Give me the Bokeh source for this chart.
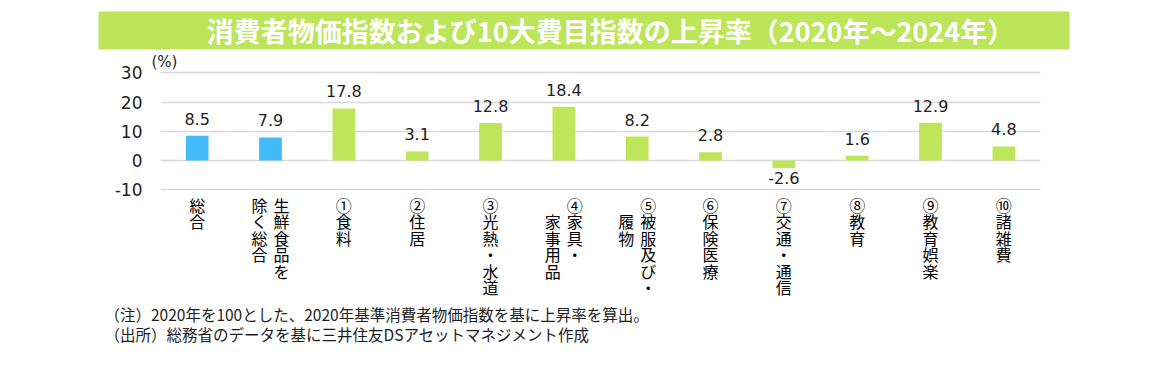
from bokeh.plotting import figure
from bokeh.models import ColumnDataSource, FixedTicker, Range1d
from bokeh.core.properties import value
from bokeh.embed import file_html
from bokeh.resources import INLINE

# ---------------- data ----------------
categories = ["総合", "生鮮食品を除く総合", "①食料", "②住居", "③光熱・水道",
              "④家具・家事用品", "⑤被服及び・履物", "⑥保険医療", "⑦交通・通信",
              "⑧教育", "⑨教育娯楽", "⑩諸雑費"]
label_columns = [["総合"], ["生鮮食品を", "除く総合"], ["①食料"], ["②住居"],
                 ["③光熱・水道"], ["④家具・", "家事用品"], ["⑤被服及び・", "履物"],
                 ["⑥保険医療"], ["⑦交通・通信"], ["⑧教育"], ["⑨教育娯楽"], ["⑩諸雑費"]]
values = [8.5, 7.9, 17.8, 3.1, 12.8, 18.4, 8.2, 2.8, -2.6, 1.6, 12.9, 4.8]
groups = ["total", "total", "item", "item", "item", "item", "item", "item",
          "item", "item", "item", "item"]
y_ticks = [-10, 0, 10, 20, 30]
title_text = "消費者物価指数および10大費目指数の上昇率（2020年～2024年）"
unit_text = "(%)"
notes = ["（注）2020年を100とした、2020年基準消費者物価指数を基に上昇率を算出。",
         "（出所）総務省のデータを基に三井住友DSアセットマネジメント作成"]

# ---------------- style ----------------
BLUE = "#45baf9"
GREEN = "#bee65a"
BANNER = "#bde55a"
TXT = "#1e1e1e"
JP = "Noto Sans CJK JP"
NUM = "DejaVu Sans"

W, H = 1142, 352
FL, FR = 160, 1040                  # plotting area left/right (page px)
ZERO_PAGE, PX_PER_UNIT = 160, 2.925
n = len(categories)
PX_PER_CAT = (FR - FL) / n
x_lo = -0.5                          # left edge of the first category
x_hi = n - 0.5
x_start = x_lo - FL / PX_PER_CAT
x_end = x_start + W / PX_PER_CAT
y_end = ZERO_PAGE / PX_PER_UNIT
y_start = -(H - ZERO_PAGE) / PX_PER_UNIT


def xd(px):
    return x_start + px / PX_PER_CAT


def yd(py):
    return (ZERO_PAGE - py) / PX_PER_UNIT


p = figure(width=W, height=H, output_backend="svg", toolbar_location=None,
           x_range=Range1d(x_start, x_end), y_range=Range1d(y_start, y_end),
           x_axis_location=None, y_axis_location="left", min_border=0,
           outline_line_color=None, background_fill_color="white",
           border_fill_color="white")

# y axis drawn at the left edge of the category area
ax = p.yaxis[0]
ax.fixed_location = x_lo
ax.ticker = FixedTicker(ticks=y_ticks)
ax.major_label_overrides = {t: str(t) for t in y_ticks}
ax.axis_line_color = None
ax.major_tick_line_color = None
ax.minor_tick_line_color = None
ax.major_tick_out = 0
ax.major_tick_in = 0
ax.major_label_standoff = 18
ax.major_label_text_font = NUM
ax.major_label_text_font_size = "17px"
ax.major_label_text_color = TXT

p.xgrid.visible = False
g = p.ygrid[0]
g.ticker = FixedTicker(ticks=y_ticks)
g.grid_line_color = "#d9d9d9"
g.grid_line_width = 1.5
try:
    g.cross_bounds = (x_lo, x_hi)
except Exception:
    g.visible = False
    p.segment(x0=[x_lo] * len(y_ticks), x1=[x_hi] * len(y_ticks),
              y0=y_ticks, y1=y_ticks, line_color="#d9d9d9", line_width=1.5)

# banner title
p.quad(left=[xd(98)], right=[xd(1069)], top=[yd(11)], bottom=[yd(49)],
       fill_color=BANNER, line_color=None)
p.text(x=[xd(610)], y=[yd(30)], text=[title_text], text_align="center",
       text_baseline="middle", text_font=value(JP), text_font_style="bold",
       text_font_size="27px", text_color="white")
p.text(x=[xd(151)], y=[yd(61)], text=[unit_text], text_align="left",
       text_baseline="middle", text_font=value(NUM), text_font_size="15px",
       text_color=TXT)

# bars
xs = list(range(n))
colors = [BLUE if gname == "total" else GREEN for gname in groups]
src = ColumnDataSource(dict(x=xs, top=values, color=colors))
p.vbar(x="x", top="top", bottom=0, width=0.31, fill_color="color",
       line_color=None, source=src)

# value labels
pos = ColumnDataSource(dict(x=[x for x, v in zip(xs, values) if v >= 0],
                            y=[v for v in values if v >= 0],
                            t=[f"{v:.1f}" for v in values if v >= 0]))
neg = ColumnDataSource(dict(x=[x for x, v in zip(xs, values) if v < 0],
                            y=[v for v in values if v < 0],
                            t=[f"{v:.1f}" for v in values if v < 0]))
p.text(x="x", y="y", text="t", source=pos, text_align="center",
       text_baseline="alphabetic", y_offset=-17, text_font=value(NUM),
       text_font_size="16px", text_color=TXT)
p.text(x="x", y="y", text="t", source=neg, text_align="center",
       text_baseline="alphabetic", y_offset=10, text_font=value(NUM),
       text_font_size="16px", text_color=TXT)

# vertical category labels (one glyph per character)
COLW, ROWH, ROW0 = 22, 16.5, 15
cx, cy, cxo, cyo, ct = [], [], [], [], []
circled = set("①②③④⑤⑥⑦⑧⑨⑩")
for i, cols in enumerate(label_columns):
    m = len(cols)
    indent = 1 if cols[0][0] in circled else 0
    for j, col in enumerate(cols):
        start = 0 if j == 0 else indent
        for r, ch in enumerate(col):
            cx.append(i)
            cy.append(y_ticks[0])
            cxo.append((m - 1) / 2 * COLW - j * COLW)
            cyo.append(ROW0 + (start + r) * ROWH)
            ct.append(ch)
lab = ColumnDataSource(dict(x=cx, y=cy, xo=cxo, yo=cyo, t=ct))
p.text(x="x", y="y", text="t", x_offset="xo", y_offset="yo", source=lab,
       text_align="center", text_baseline="middle", text_font=value(JP),
       text_font_size="16px", text_color="black")

# footnotes
p.text(x=[xd(104)] * len(notes), y=[yd(313), yd(333)], text=notes,
       text_align="left", text_baseline="middle", text_font=value(JP),
       text_font_size="15.5px", text_color=TXT)

open("out.html", "w").write(file_html(p, INLINE))
